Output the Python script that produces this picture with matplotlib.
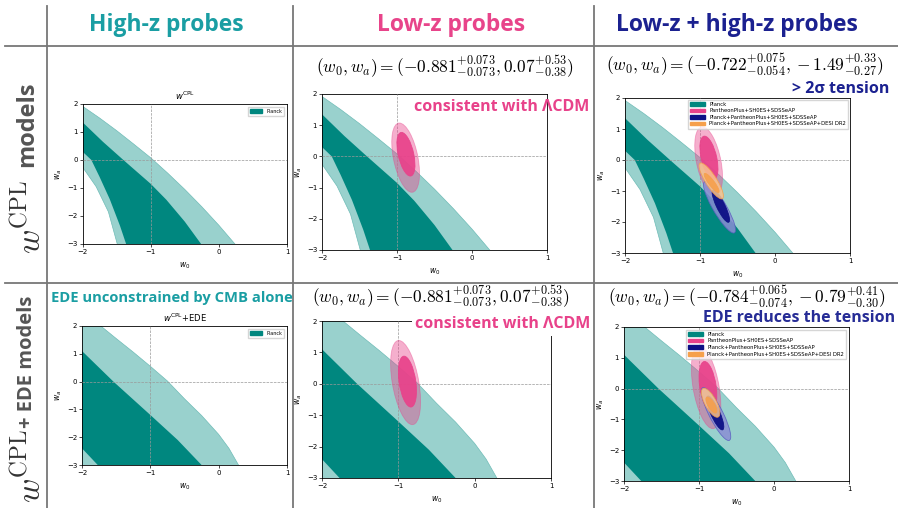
import math
import matplotlib.pyplot as plt
from matplotlib.patches import Ellipse, Patch
from matplotlib.lines import Line2D

plt.rcParams['mathtext.fontset'] = 'cm'

W, H = 898, 508

# column / row headers
col_titles = ["High-z probes", "Low-z probes", "Low-z + high-z probes"]
col_colors = ["#1a9ea3", "#e8448a", "#1b2190"]
row_math = [r"$w^{\rm CPL}$", r"$w^{\rm CPL}$"]
row_words = ["models", "+ EDE models"]

legend_labels = ["Planck", "PantheonPlus+SH0ES+SDSSeAP",
                 "Planck+PantheonPlus+SH0ES+SDSSeAP",
                 "Planck+PantheonPlus+SH0ES+SDSSeAP+DESI DR2"]

# Planck bands, CPL: boundaries of the 95% and 68% regions (w0, wa)
cpl_95_up_w0 = [-2.1, -2.0, -1.75, -1.5, -1.25, -1.0, -0.75, -0.5, -0.25, 0.0, 0.25, 0.35]
cpl_95_up_wa = [2.1, 1.92, 1.5, 1.05, 0.57, 0.08, -0.47, -1.05, -1.67, -2.33, -3.04, -3.33]
cpl_95_lo_w0 = [-2.05, -2.0, -1.8, -1.62, -1.49, -1.46]
cpl_95_lo_wa = [0.0, -0.25, -0.95, -1.85, -3.0, -3.3]
cpl_68_up_w0 = [-2.05, -2.0, -1.7, -1.4, -1.0, -0.77, -0.5, -0.26, -0.2]
cpl_68_up_wa = [1.45, 1.35, 0.65, 0.0, -0.85, -1.42, -2.2, -3.0, -3.2]
cpl_68_lo_w0 = [-2.05, -2.0, -1.87, -1.75, -1.6, -1.45, -1.36, -1.33]
cpl_68_lo_wa = [0.45, 0.3, 0.0, -0.6, -1.4, -2.35, -3.0, -3.3]

# Planck bands, CPL + EDE
ede_95_up_w0 = [-2.1, -1.75, -1.5, -1.25, -1.0, -0.75, -0.5, -0.25, 0.0, 0.15, 0.29, 0.35]
ede_95_up_wa = [2.75, 2.05, 1.55, 1.06, 0.55, 0.02, -0.62, -1.22, -1.9, -2.4, -3.0, -3.3]
ede_95_lo_w0 = [-2.3]
ede_95_lo_wa = [-3.6]
ede_68_up_w0 = [-2.05, -2.0, -1.54, -1.0, -0.6, -0.25, -0.2]
ede_68_up_wa = [1.2, 1.1, 0.0, -1.2, -2.1, -3.0, -3.12]
ede_68_lo_w0 = [-2.05, -2.0, -1.77, -1.72]
ede_68_lo_wa = [-2.2, -2.4, -3.0, -3.15]

# best fits quoted in the panels: w0, +err, -err, wa, +err, -err
lowz_cpl_fit = [-0.881, 0.073, 0.073, 0.07, 0.53, 0.38]
lowz_ede_fit = [-0.881, 0.073, 0.073, 0.07, 0.53, 0.38]
all_cpl_fit = [-0.722, 0.075, 0.054, -1.49, 0.33, 0.27]
all_ede_fit = [-0.784, 0.065, 0.074, -0.79, 0.41, 0.30]

# contour ellipses: centre w0, centre wa, offset to upper tip (w0, wa), half width in w0
pink_cpl_95 = [-0.885, -0.04, -0.085, 1.11, 0.165]
pink_cpl_68 = [lowz_cpl_fit[0], lowz_cpl_fit[3], -0.06, 0.70, 0.105]
pink_ede_95 = [-0.905, 0.04, -0.09, 1.34, 0.175]
pink_ede_68 = [lowz_ede_fit[0], lowz_ede_fit[3], -0.045, 0.81, 0.11]
navy_cpl_95 = [-0.74, -1.525, -0.19, 0.83, 0.1]
navy_cpl_68 = [all_cpl_fit[0], all_cpl_fit[3], -0.1, 0.52, 0.06]
orng_cpl_95 = [-0.85, -0.675, -0.14, 0.58, 0.085]
orng_cpl_68 = [-0.845, -0.74, -0.09, 0.31, 0.045]
navy_ede_95 = [-0.773, -0.825, -0.17, 0.86, 0.1]
navy_ede_68 = [all_ede_fit[0], all_ede_fit[3], -0.095, 0.55, 0.065]
orng_ede_95 = [-0.845, -0.46, -0.09, 0.47, 0.085]
orng_ede_68 = [-0.835, -0.535, -0.055, 0.26, 0.05]

teal_dark = "#00877f"
teal_light = "#99d1cd"
pink = "#e8428a"
navy = "#0d1085"
navy_light = "#8a8ed3"
orange = "#f6a04c"
orange_light = "#f9c38f"

fig = plt.figure(figsize=(W / 100, H / 100), dpi=100)


def px_axes(left, top, right, bottom):
    return fig.add_axes([left / W, 1 - bottom / H, (right - left) / W, (bottom - top) / H])


def fig_text(x, y, s, **kw):
    return fig.text(x / W, 1 - y / H, s, **kw)


def fig_line(x0, y0, x1, y1):
    fig.add_artist(Line2D([x0 / W, x1 / W], [1 - y0 / H, 1 - y1 / H], color="#777777",
                          lw=1.3, transform=fig.transFigure, zorder=20))


def fit_label(f):
    return r"$(w_0, w_a) = (%.3f^{+%.3f}_{-%.3f}, %.2f^{+%.2f}_{-%.2f})$" % tuple(f)


def planck(ax, up2, lo2, up1, lo1):
    ax.fill(up2[0] + lo2[0][::-1], up2[1] + lo2[1][::-1], facecolor=teal_light,
            edgecolor="#6fbcb7", lw=0.5, zorder=1)
    ax.fill(up1[0] + lo1[0][::-1], up1[1] + lo1[1][::-1], facecolor=teal_dark,
            edgecolor="none", zorder=2)


def contour(ax, c, color, alpha, z, edge=None):
    cx, cy, dx, dy, b = c
    ang = math.degrees(math.atan2(-dx, dy))
    ax.add_patch(Ellipse((cx, cy), 2 * b, 2 * math.hypot(dx, dy), angle=ang,
                         facecolor=color, alpha=alpha, edgecolor=edge or color,
                         lw=0.6, zorder=z))


def setup(ax, title=None):
    ax.set_xlim(-2, 1)
    ax.set_ylim(-3, 2)
    ax.set_xticks([-2, -1, 0, 1])
    ax.set_yticks([-3, -2, -1, 0, 1, 2])
    ax.tick_params(labelsize=5, length=2, width=0.5, pad=1.5)
    for s in ax.spines.values():
        s.set_linewidth(0.6)
    ax.axvline(-1, color="#999999", ls="--", lw=0.5, zorder=3)
    ax.axhline(0, color="#999999", ls="--", lw=0.5, zorder=3)
    ax.set_xlabel("$w_0$", fontsize=5.5, labelpad=4, math_fontfamily="dejavusans")
    ax.set_ylabel("$w_a$", fontsize=5.5, labelpad=2, math_fontfamily="dejavusans")
    if title:
        ax.set_title(title, fontsize=6, pad=3, math_fontfamily="dejavusans")


def combined(ax, pink95, pink68, navy95, navy68, orng95, orng68, pad):
    contour(ax, pink95, pink, 0.42, 4)
    contour(ax, pink68, pink, 0.92, 5)
    contour(ax, navy95, navy_light, 0.85, 6, edge="#5a5fc0")
    contour(ax, navy68, navy, 0.95, 7)
    contour(ax, orng95, orange_light, 0.85, 8, edge=orange)
    contour(ax, orng68, orange, 0.9, 9)
    ax.legend(handles, legend_labels, fontsize=3.8, loc="upper right", handlelength=2.8,
              borderaxespad=pad, fancybox=False, labelspacing=0.3)


cpl_bands = ([cpl_95_up_w0, cpl_95_up_wa], [cpl_95_lo_w0, cpl_95_lo_wa],
             [cpl_68_up_w0, cpl_68_up_wa], [cpl_68_lo_w0, cpl_68_lo_wa])
ede_bands = ([ede_95_up_w0, ede_95_up_wa], [ede_95_lo_w0, ede_95_lo_wa],
             [ede_68_up_w0, ede_68_up_wa], [ede_68_lo_w0, ede_68_lo_wa])

handles = [Patch(color=teal_dark), Patch(color=pink), Patch(color=navy), Patch(color=orange)]

# grid lines of the slide
fig_line(5, 46, 898, 46)
fig_line(5, 283, 898, 283)
for x in [47, 293, 594]:
    fig_line(x, 6, x, 508)

for i in range(3):
    fig_text([166, 451, 737][i], 25, col_titles[i], color=col_colors[i], fontsize=16.5,
             fontweight="bold", family="Open Sans", ha="center", va="center")

# row labels, rotated: bold words above the math symbol
fig_text(27, 124, row_words[0], rotation=90, fontsize=17, fontweight="bold",
         family="Open Sans", color="#555555", ha="center", va="center")
fig_text(30, 217, row_math[0], rotation=90, fontsize=24, color="#333333",
         ha="center", va="center")
fig_text(27, 362, row_words[1], rotation=90, fontsize=14.5, fontweight="bold",
         family="Open Sans", color="#555555", ha="center", va="center")
fig_text(30, 466, row_math[1], rotation=90, fontsize=24, color="#333333",
         ha="center", va="center")

# top row: CPL
ax1 = px_axes(82.5, 104, 287, 244)
planck(ax1, *cpl_bands)
setup(ax1, r"$w^{\rm CPL}$")
ax1.legend(handles[:1], legend_labels[:1], fontsize=3.5, loc="upper right",
           handlelength=2.5, borderaxespad=0.6, fancybox=False)

ax2 = px_axes(322, 94, 547, 250)
planck(ax2, *cpl_bands)
setup(ax2)
contour(ax2, pink_cpl_95, pink, 0.42, 4)
contour(ax2, pink_cpl_68, pink, 0.92, 5)
fig_text(445, 67, fit_label(lowz_cpl_fit), fontsize=12.5, ha="center", va="center")
fig_text(502, 107, "consistent with ΛCDM", color=pink, fontsize=11.5, fontweight="bold",
         family="Open Sans", ha="center", va="center", zorder=10)

ax3 = px_axes(625, 98, 850, 253)
planck(ax3, *cpl_bands)
setup(ax3)
combined(ax3, pink_cpl_95, pink_cpl_68, navy_cpl_95, navy_cpl_68, orng_cpl_95, orng_cpl_68, 0.3)
fig_text(745, 65, fit_label(all_cpl_fit), fontsize=12.5, ha="center", va="center")
fig_text(889, 89, "> 2σ tension", color="#1b2190", fontsize=11.5, fontweight="bold",
         family="Open Sans", ha="right", va="center")

# bottom row: CPL + EDE
ax4 = px_axes(82, 326, 287, 465)
planck(ax4, *ede_bands)
setup(ax4, r"$w^{\rm CPL}$+EDE")
ax4.legend(handles[:1], legend_labels[:1], fontsize=3.5, loc="upper right",
           handlelength=2.5, borderaxespad=0.6, fancybox=False)
fig_text(172, 298, "EDE unconstrained by CMB alone", color="#1a9ea3", fontsize=10.6,
         fontweight="bold", family="Open Sans", ha="center", va="center")

ax5 = px_axes(322, 321, 551, 478)
planck(ax5, *ede_bands)
setup(ax5)
contour(ax5, pink_ede_95, pink, 0.42, 4)
contour(ax5, pink_ede_68, pink, 0.92, 5)
fig_text(441, 297, fit_label(lowz_ede_fit), fontsize=12.5, ha="center", va="center")
fig_text(503, 324, "consistent with ΛCDM", color=pink, fontsize=11.5, fontweight="bold",
         family="Open Sans", ha="center", va="center",
         bbox=dict(facecolor="white", edgecolor="none", pad=2.5), zorder=10)

ax6 = px_axes(624, 327, 849, 481)
planck(ax6, *ede_bands)
setup(ax6)
combined(ax6, pink_ede_95, pink_ede_68, navy_ede_95, navy_ede_68, orng_ede_95, orng_ede_68, 0.5)
fig_text(747, 297, fit_label(all_ede_fit), fontsize=12.5, ha="center", va="center")
fig_text(799, 318, "EDE reduces the tension", color="#262c96", fontsize=11.5,
         fontweight="bold", family="Open Sans", ha="center", va="center",
         bbox=dict(facecolor="white", edgecolor="none", pad=1), zorder=10)

fig.savefig("out.png", dpi=100)
